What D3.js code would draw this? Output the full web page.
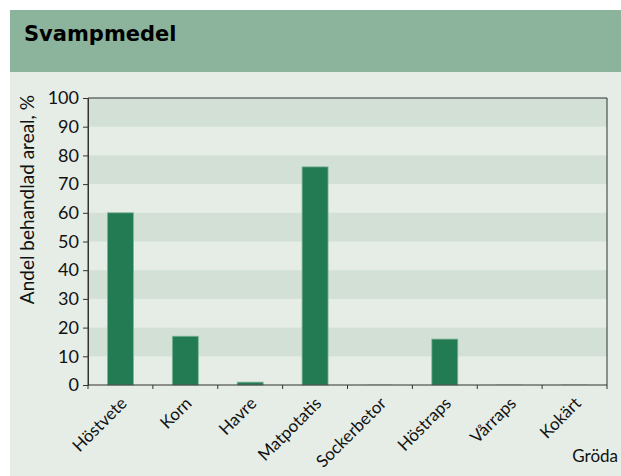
<!DOCTYPE html>
<html>
<head>
<meta charset="utf-8">
<script src="https://cdn.jsdelivr.net/npm/d3@7"></script>
<style>
  body { margin: 0; background: #fff; }
  svg { display: block; }
</style>
</head>
<body>
<svg id="chart" width="621" height="476"></svg>
<script>
// Data
const crops = ['Höstvete', 'Korn', 'Havre', 'Matpotatis', 'Sockerbetor', 'Höstraps', 'Vårraps', 'Kokärt'];
const shares = [60, 17, 1, 76, 0, 16, 0, 0];
const yTicks = [0, 10, 20, 30, 40, 50, 60, 70, 80, 90, 100];

const title = 'Svampmedel';
const yTitle = 'Andel behandlad areal, %';
const xTitle = 'Gröda';

const font = 'Lato, "DejaVu Sans", sans-serif';
const svg = d3.select('#chart');

// Header and panel backgrounds
svg.append('rect').attr('x', 10).attr('y', 10).attr('width', 611).attr('height', 62).attr('fill', '#8cb49c');
svg.append('rect').attr('x', 10).attr('y', 72).attr('width', 611).attr('height', 404).attr('fill', '#e5ede6');

svg.append('text')
    .attr('x', 24).attr('y', 41)
    .attr('font-family', '"DejaVu Sans", sans-serif')
    .attr('font-weight', 'bold')
    .attr('font-size', 21)
    .attr('fill', '#000')
    .text(title);

const margin = { left: 88, right: 607, top: 98, bottom: 385 };

const x = d3.scaleBand()
    .domain(crops)
    .range([margin.left, margin.right])
    .paddingInner(0.6)
    .paddingOuter(0.3);

const y = d3.scaleLinear()
    .domain([0, 100])
    .range([margin.bottom, margin.top]);

// Alternating bands: dark on 10-20, 30-40, ...
const bands = yTicks.slice(0, -1).filter(v => (v / 10) % 2 === 1);
svg.append('g').selectAll('rect')
    .data(bands)
    .join('rect')
    .attr('x', margin.left)
    .attr('width', margin.right - margin.left)
    .attr('y', d => y(d + 10))
    .attr('height', d => y(d) - y(d + 10))
    .attr('fill', '#d2e0d6');

// Bars (zero values still leave a faint outline, as in the source)
svg.append('g').selectAll('rect')
    .data(crops.map((c, i) => ({ crop: c, value: shares[i] })))
    .join('rect')
    .attr('x', d => x(d.crop))
    .attr('width', x.bandwidth())
    .attr('y', d => Math.min(y(d.value), y(0) - 1))
    .attr('height', d => Math.max(y(0) - y(d.value), 1))
    .attr('fill', d => d.value > 0 ? '#237b53' : '#c6d8cc')
    .attr('stroke', d => d.value > 0 ? '#7fb597' : 'none')
    .attr('stroke-width', 0.8);

// Frame
svg.append('path')
    .attr('d', `M${margin.left},${margin.bottom}V${margin.top}H${margin.right}V${margin.bottom}`)
    .attr('fill', 'none')
    .attr('stroke', '#333')
    .attr('stroke-width', 1);

// Y axis
const yAxis = svg.append('g')
    .attr('transform', `translate(${margin.left},0)`)
    .call(d3.axisLeft(y).tickValues(yTicks).tickSize(5).tickPadding(4));
yAxis.select('.domain').attr('stroke', '#333');
yAxis.selectAll('.tick line').attr('stroke', '#333');
yAxis.selectAll('text')
    .attr('font-family', font)
    .attr('font-size', 18)
    .attr('fill', '#111');

// X axis: ticks on category boundaries
const boundaries = d3.range(crops.length + 1).map(i => margin.left + i * (margin.right - margin.left) / crops.length);
svg.append('line')
    .attr('x1', margin.left).attr('x2', margin.right)
    .attr('y1', margin.bottom).attr('y2', margin.bottom)
    .attr('stroke', '#333');
svg.append('g').selectAll('line')
    .data(boundaries)
    .join('line')
    .attr('x1', d => d).attr('x2', d => d)
    .attr('y1', margin.bottom).attr('y2', margin.bottom + 4)
    .attr('stroke', '#333');

svg.append('g').selectAll('text')
    .data(crops)
    .join('text')
    .attr('transform', d => `translate(${x(d) + x.bandwidth() / 2 - 1},${margin.bottom + 11}) rotate(-45)`)
    .attr('text-anchor', 'end')
    .attr('dy', '0.7em')
    .attr('font-family', font)
    .attr('font-size', 17)
    .attr('fill', '#111')
    .text(d => d);

// Axis titles
svg.append('text')
    .attr('transform', 'translate(34,95) rotate(-90)')
    .attr('text-anchor', 'end')
    .attr('font-family', font)
    .attr('font-size', 19)
    .attr('fill', '#111')
    .text(yTitle);

svg.append('text')
    .attr('x', 618).attr('y', 462)
    .attr('text-anchor', 'end')
    .attr('font-family', font)
    .attr('font-size', 17)
    .attr('fill', '#111')
    .text(xTitle);
</script>
</body>
</html>
